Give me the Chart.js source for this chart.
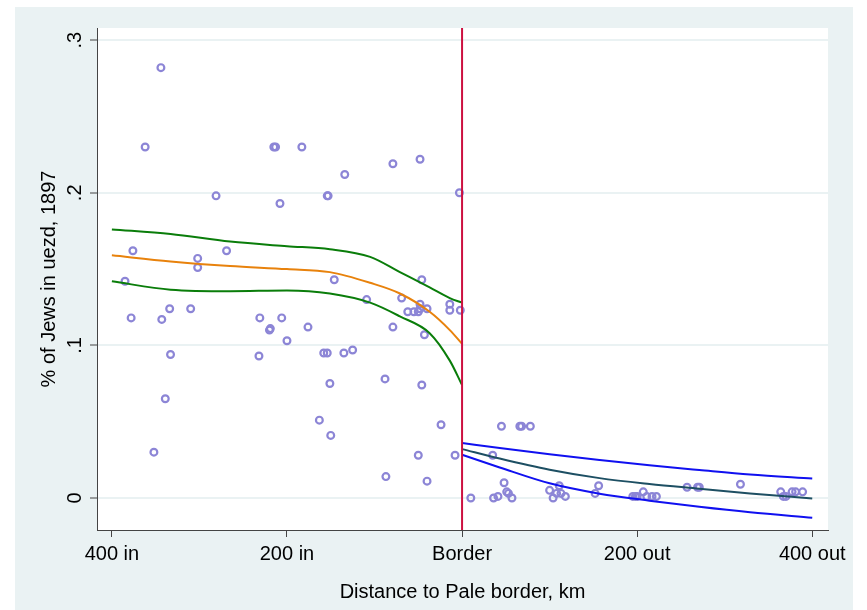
<!DOCTYPE html>
<html>
<head>
<meta charset="utf-8">
<script src="https://cdn.jsdelivr.net/npm/chart.js@4/dist/chart.umd.min.js"></script>
<style>
  html, body { margin:0; padding:0; background:#fff; }
  #wrap { width:867px; height:610px; }
</style>
</head>
<body>
<div id="wrap"><canvas id="chart" width="867" height="610"></canvas></div>
<script>
// 散點資料 (distance km, negative = inside the Pale)
const distKm = [
  -344,-362,-215,-213,-183,-281,-208,-154,-153,-134,-79,-48,-3,
  -376,-269,-302,-302,-385,-378,-343,-334,-310,-231,-206,-220,-219,-200,
  -333,-232,-339,-352,-176,-158,-154,-135,-125,-146,-46,-109,-69,-48,
  -62,-55,-50,-48,-40,-14,-14,-2,-79,-43,-151,-88,-46,-163,-150,-24,
  -50,-8,-87,-40,
  10,35,36,41,45,48,51,53,57,66,68,78,100,104,108,111,113,118,152,156,
  195,198,200,207,211,217,222,257,269,271,318,364,367,370,377,381,389
]
const jewShare = [
  0.282,0.230,0.230,0.230,0.230,0.198,0.193,0.198,0.198,0.212,0.219,0.222,0.200,
  0.162,0.162,0.157,0.151,0.142,0.118,0.117,0.124,0.124,0.118,0.118,0.110,0.111,0.103,
  0.094,0.093,0.065,0.030,0.112,0.095,0.095,0.095,0.097,0.143,0.143,0.130,0.131,0.127,
  0.122,0.122,0.122,0.124,0.124,0.127,0.123,0.123,0.112,0.107,0.075,0.078,0.074,0.051,0.041,0.048,
  0.028,0.028,0.014,0.011,
  0.000,0.028,0.000,0.001,0.047,0.010,0.004,0.003,0.000,0.047,0.047,0.047,0.005,0.000,0.003,0.008,0.003,0.001,0.003,0.008,
  0.001,0.001,0.001,0.004,0.001,0.001,0.001,0.007,0.007,0.007,0.009,0.004,0.001,0.001,0.004,0.004,0.004
]

// fitted curves inside the Pale
const fitInX   = [-400,-333,-265,-200,-151,-105,-71,-37,-14,0]
const fitInMid = [0.159,0.155,0.152,0.150,0.148,0.141,0.134,0.122,0.110,0.101]
const fitInHi  = [0.176,0.173,0.168,0.165,0.163,0.158,0.148,0.138,0.131,0.128]
const fitInLo  = [0.142,0.1365,0.1355,0.136,0.134,0.128,0.119,0.108,0.090,0.074]

// fitted curves outside the Pale
const fitOutX   = [0,43,100,157,214,271,329,400]
const fitOutMid = [0.032,0.0258,0.0185,0.0130,0.0092,0.0061,0.0030,-0.0004]
const fitOutHi  = [0.036,0.0327,0.0286,0.0249,0.0214,0.0183,0.0153,0.0127]
const fitOutLo  = [0.0283,0.0200,0.0096,0.0028,-0.0018,-0.0058,-0.0094,-0.013]

// 軸設定
const xTickVals = [-400,-200,0,200,400]
const xTickLabels = ['400 in','200 in','Border','200 out','400 out']
const yTickVals = [0,0.1,0.2,0.3]
const yTickLabels = ['0','.1','.2','.3']
const xMin = -417, xMax = 418
const yMin = -0.021, yMax = 0.308
const borderX = 0

const FONT = "'Liberation Sans', Arial, sans-serif"

function pts(xs, ys){
  return xs.map((x,i)=>({x:x, y:ys[i]}))
}

function fitLine(xs, ys, color){
  return {
    type:'line',
    data: pts(xs, ys),
    borderColor: color,
    borderWidth: 2,
    pointRadius: 0,
    fill: false,
    cubicInterpolationMode: 'monotone'
  }
}

// background panels + rotated y tick labels
const stataBg = {
  id:'stataBg',
  beforeDraw(chart){
    const {ctx, chartArea} = chart
    ctx.save()
    ctx.fillStyle = '#ffffff'
    ctx.fillRect(0,0,chart.width,chart.height)
    ctx.fillStyle = '#eaf2f3'
    ctx.fillRect(15,7,838,chart.height-7)
    ctx.fillStyle = '#ffffff'
    ctx.fillRect(chartArea.left, chartArea.top, chartArea.right-chartArea.left, chartArea.bottom-chartArea.top)
    ctx.restore()
  },
  afterDraw(chart){
    const {ctx} = chart
    const y = chart.scales.y
    ctx.save()
    ctx.fillStyle = '#000'
    ctx.font = '20px ' + FONT
    ctx.textAlign = 'center'
    ctx.textBaseline = 'middle'
    yTickVals.forEach((v,i)=>{
      ctx.save()
      ctx.translate(75, y.getPixelForValue(v))
      ctx.rotate(-Math.PI/2)
      ctx.fillText(yTickLabels[i], 0, 0)
      ctx.restore()
    })
    ctx.restore()
  }
}

const ctx = document.getElementById('chart').getContext('2d')
const myChart = new Chart(ctx, {
  type:'scatter',
  data:{
    datasets:[
      {
        type:'line',
        data:[{x:borderX, y:yMin},{x:borderX, y:yMax}],
        borderColor:'#cc1040',
        borderWidth:2,
        pointRadius:0
      },
      fitLine(fitInX, fitInHi, '#0a7d0a'),
      fitLine(fitInX, fitInMid, '#e8820c'),
      fitLine(fitInX, fitInLo, '#0a7d0a'),
      fitLine(fitOutX, fitOutHi, '#1010f0'),
      fitLine(fitOutX, fitOutMid, '#1d4f63'),
      fitLine(fitOutX, fitOutLo, '#1010f0'),
      {
        data: pts(distKm, jewShare),
        pointStyle:'circle',
        pointRadius:3.4,
        pointBorderWidth:2.2,
        borderColor:'#8c85d6',
        backgroundColor:'rgba(0,0,0,0)'
      }
    ]
  },
  options:{
    responsive:false,
    animation:false,
    layout:{ padding:{ left:0, right:39, top:28, bottom:0 } },
    plugins:{ legend:{display:false}, tooltip:{enabled:false} },
    scales:{
      x:{
        type:'linear',
        min:xMin, max:xMax,
        afterBuildTicks: s => { s.ticks = xTickVals.map(v=>({value:v})) },
        afterFit: s => { s.height = 80 },
        ticks:{
          autoSkip:false, maxRotation:0, padding:5,
          color:'#000', font:{family:FONT, size:20},
          callback:(v,i)=> xTickLabels[i]
        },
        grid:{ drawOnChartArea:false, tickLength:7, tickColor:'#444', tickWidth:1 },
        border:{ color:'#444', width:1 },
        title:{ display:true, text:'Distance to Pale border, km', color:'#000',
                font:{family:FONT, size:20}, padding:{top:0, bottom:6} }
      },
      y:{
        type:'linear',
        min:yMin, max:yMax,
        afterBuildTicks: s => { s.ticks = yTickVals.map(v=>({value:v})) },
        afterFit: s => { s.width = 97 },
        ticks:{ display:false },
        grid:{ color:'#eaf2f3', lineWidth:2, tickLength:7, tickColor:'#444', tickWidth:1 },
        border:{ color:'#444', width:1 },
        title:{ display:true, text:'% of Jews in uezd, 1897', color:'#000',
                font:{family:FONT, size:20}, padding:{top:37, bottom:0} }
      }
    }
  },
  plugins:[stataBg]
})
</script>
</body>
</html>
